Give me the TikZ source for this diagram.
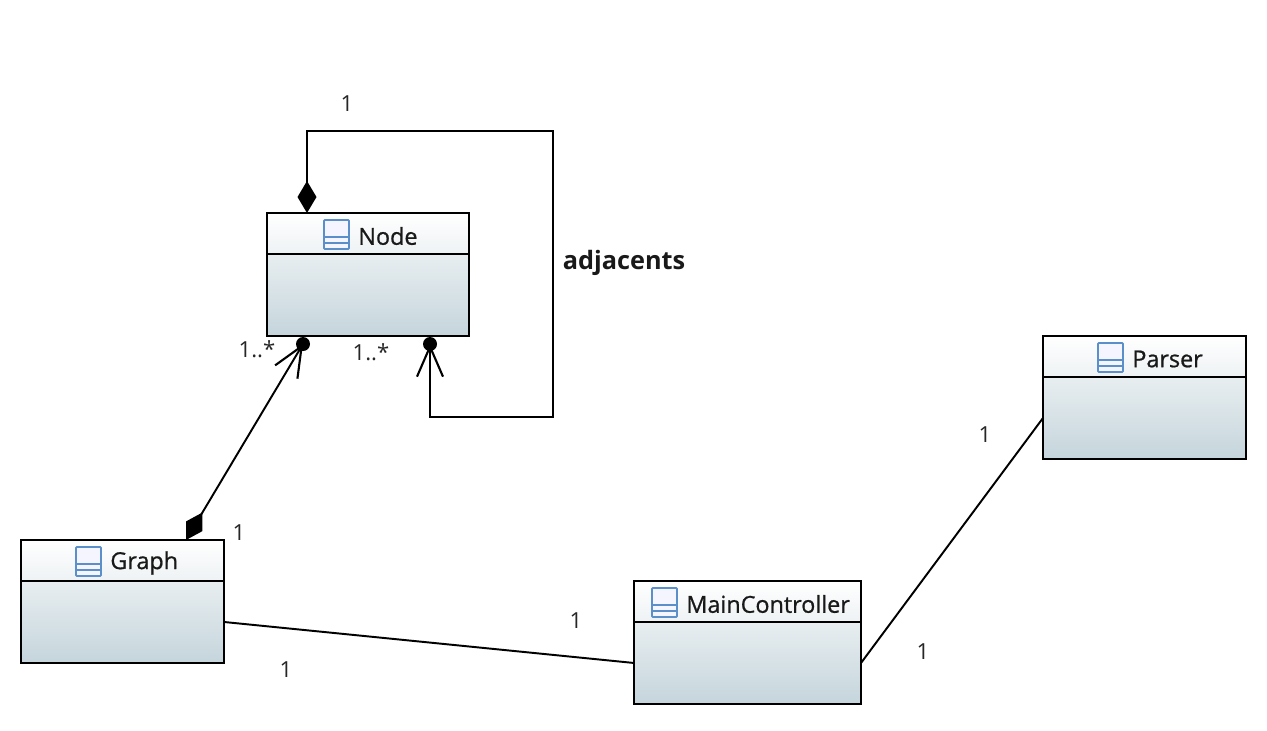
\documentclass[tikz,border=0pt]{standalone}
\usepackage{fontspec}
\setmainfont{Open Sans}
\usetikzlibrary{positioning,arrows.meta}
\definecolor{iconblue}{HTML}{5B8FC9}
\definecolor{headlow}{HTML}{EEF2F4}
\definecolor{bodyhigh}{HTML}{E8EEF0}
\definecolor{bodylow}{HTML}{C5D5DC}
\tikzset{
    classhead/.style={draw=black, line width=1.1pt, top color=white, bottom color=headlow, minimum height=0.82cm, outer sep=0pt, inner sep=0pt},
    classbody/.style={draw=black, line width=1.1pt, top color=bodyhigh, bottom color=bodylow, minimum height=1.64cm, outer sep=0pt, inner sep=0pt},
    classname/.style={font=\fontsize{13.3}{15}\selectfont\addfontfeature{FakeBold=0.8}, text=black!90, inner sep=0pt, anchor=west},
    mult/.style={font=\fontsize{12.6}{14}\selectfont, text=black!85, inner sep=0pt},
    rolename/.style={font=\fontsize{14.4}{16}\selectfont\bfseries, text=black!90, inner sep=0pt},
    ball/.style={circle, fill=black, minimum size=0.28cm, inner sep=0pt},
    assoc/.style={line width=1.1pt, black},
    composenav/.style={{Diamond[length=0.64cm,width=0.38cm]}-{Straight Barb[length=0.6cm,width=0.52cm,line width=1.2pt]}}
}
% class box: id, name, left, top, width, icon left
\newcommand{\umlclass}[6]{
    \node[classhead, minimum width=#5*0.02cm, anchor=north west] (#1Head) at (#3,#4) {};
    \node[classbody, minimum width=#5*0.02cm, below=0pt of #1Head] (#1Body) {};
    \draw[iconblue, fill=blue!4, line width=1pt, rounded corners=0.5pt] (#6,#4+7) rectangle (#6+25,#4+36);
    \draw[iconblue, line width=1pt] (#6,#4+24) -- (#6+25,#4+24) (#6,#4+30) -- (#6+25,#4+30);
    \node[classname] (#1Name) at (#6+34,#4+23) {#2};
}
\begin{document}
\begin{tikzpicture}[x=0.02cm, y=-0.02cm]
    \useasboundingbox (0,0) rectangle (1267,730);

    \umlclass{node}{Node}{267}{213}{202}{324}
    \umlclass{graph}{Graph}{21}{540}{203}{76}
    \umlclass{main}{MainController}{634}{581}{227}{652}
    \umlclass{parser}{Parser}{1043}{336}{203}{1098}

    \coordinate (selfStart) at (307,213);
    \coordinate (graphStart) at (186,540);
    \node[ball] (ballLeft) at (303,344) {};
    \node[ball] (ballRight) at (430,344) {};

    % self association
    \draw[assoc, composenav] (selfStart) -- (307,131) -- (553,131) -- (553,417) -- (430,417) -- (ballRight.center);
    \draw[assoc, composenav] (graphStart) -- (ballLeft.center);
    \draw[assoc] (graphBody.east) -- (mainBody.west);
    \draw[assoc] (mainBody.east) -- (parserBody.west);

    \node[mult] (selfOne) at (347,104) {1};
    \node[mult] (manyLeft) at (257,349) {1..*};
    \node[mult] (manyRight) at (371,352) {1..*};
    \node[rolename] (adjName) at (624,263) {adjacents};
    \node[mult] (graphOne) at (239,533) {1};
    \node[mult] (graphMain) at (286,670) {1};
    \node[mult] (mainGraph) at (576,621) {1};
    \node[mult] (mainParser) at (923,652) {1};
    \node[mult] (parserMain) at (985,435) {1};
\end{tikzpicture}
\end{document}
